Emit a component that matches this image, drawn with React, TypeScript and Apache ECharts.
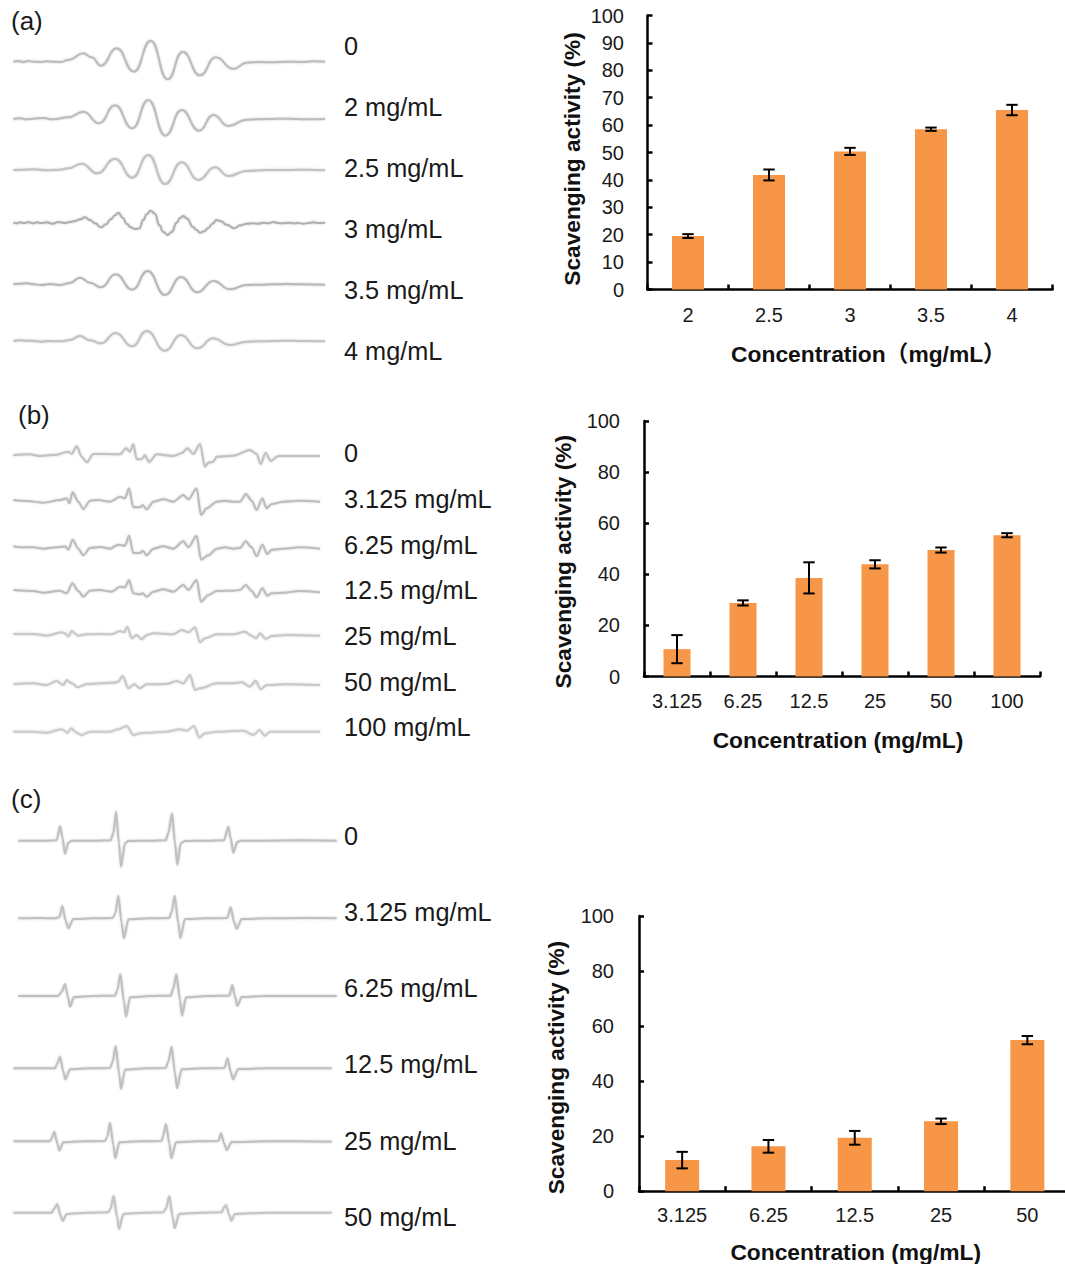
import React, { useEffect, useRef } from "react";
import * as echarts from "echarts";

// ---------- bar data ----------
const catsA = ["2", "2.5", "3", "3.5", "4"];
const valsA = [19.5, 41.8, 50.4, 58.5, 65.5];
const errsA = [0.7, 2, 1.3, 0.6, 1.9];

const catsB = ["3.125", "6.25", "12.5", "25", "50", "100"];
const valsB = [10.7, 28.8, 38.6, 43.9, 49.5, 55.3];
const errsB = [5.5, 1, 6.1, 1.6, 1, 0.8];

const catsC = ["3.125", "6.25", "12.5", "25", "50"];
const valsC = [11.3, 16.3, 19.4, 25.4, 54.9];
const errsC = [3, 2.3, 2.5, 1, 1.5];

// ---------- spectrum labels ----------
const labelsA = ["0", "2 mg/mL", "2.5 mg/mL", "3 mg/mL", "3.5 mg/mL", "4 mg/mL"];
const labelsB = ["0", "3.125 mg/mL", "6.25 mg/mL", "12.5 mg/mL", "25 mg/mL", "50 mg/mL", "100 mg/mL"];
const labelsC = ["0", "3.125 mg/mL", "6.25 mg/mL", "12.5 mg/mL", "25 mg/mL", "50 mg/mL"];

// ---------- spectrum readings: flat field, signal pairs ----------
const a0 = [40,0,55,2,70,-1,85,2,100,0,120,-1,140,1,160,0,180,-1,205,5,250,25,275,13,303,-12,350,40,402,-30,452,63,503,-53,548,30,600,-41,647,13,700,-22,740,-3,780,-1,820,-2,860,0,900,-1,940,1,975,0];
const a1 = [40,0,60,2,80,-1,100,1,130,3,160,-1,205,5,250,22,297,-13,345,41,397,-28,445,57,496,-50,545,27,597,-35,640,12,685,-21,740,-2,800,0,860,1,920,-1,975,0];
const a2 = [40,0,70,1,100,2,140,-1,180,1,205,5,245,19,292,-10,345,34,397,-23,445,45,495,-42,545,23,595,-30,645,8,685,-18,740,-3,800,0,860,0,920,1,975,-1];
const a3 = [40,1,50,-2,60,1,72,-1,85,2,98,-2,110,1,125,-1,140,1,158,-3,175,2,195,-1,210,2,225,5,240,10,255,16,270,8,285,-2,303,-14,318,-5,332,10,345,22,355,30,368,15,380,-3,392,-14,405,-19,418,-17,430,8,440,25,452,36,465,27,478,-8,490,-28,503,-37,515,-28,530,0,540,14,550,20,562,12,578,-12,590,-22,600,-30,612,-26,625,-16,637,-3,650,8,662,4,680,-6,703,-17,720,-8,740,-3,760,-2,775,-3,790,0,805,-2,820,2,835,-1,850,-2,865,0,880,-2,895,-1,910,-3,925,-1,940,1,955,-1,975,0];
const a4 = [40,0,60,2,80,3,100,0,125,-2,150,1,180,-2,210,4,240,20,270,5,303,-9,347,30,397,-16,443,40,495,-32,543,22,592,-24,640,10,690,-15,740,-2,780,-1,820,0,860,1,900,0,975,-1];
const a5 = [40,0,60,2,80,1,100,0,125,-2,150,0,180,-1,210,3,240,15,270,2,303,-7,347,24,397,-16,440,30,495,-29,543,18,592,-22,640,8,690,-12,740,-2,780,-1,820,0,860,1,900,0,975,-1];

const b0 = [40,0,90,2,120,-3,170,1,205,10,215,3,230,27,245,-5,260,-22,280,3,320,3,360,2,378,20,390,10,400,33,410,-13,425,-13,435,-1,447,-21,470,2,520,-3,545,5,562,20,580,3,600,33,615,-35,625,-23,640,-20,650,-5,700,-2,750,15,770,3,782,-27,797,7,812,-18,835,-3,880,-3,960,-3];
const b1 = [40,2,80,-1,130,-6,180,2,200,7,208,-8,218,25,235,-3,250,-25,270,0,295,2,330,-3,360,12,375,7,387,37,400,-20,420,-20,428,-13,440,-26,460,-3,490,4,520,-3,550,17,565,4,590,37,603,-43,620,-23,650,-3,675,0,700,-3,720,-3,738,20,755,0,770,-28,787,7,800,-23,815,-10,850,-3,900,0,960,-3];
const b2 = [40,5,60,2,100,2,130,-2,180,3,195,5,205,-5,218,25,235,-2,250,-22,270,0,300,3,330,-2,355,10,375,7,387,37,400,-15,420,-15,428,-8,440,-22,460,-2,490,5,520,-2,550,20,565,2,590,37,603,-35,625,-22,650,-2,675,2,700,-2,720,0,737,20,755,2,770,-25,787,10,802,-18,815,-5,850,-2,900,2,960,-2];
const b3 = [40,2,100,-1,130,-6,180,0,200,-8,217,22,235,-1,250,-18,270,0,300,2,335,-3,360,12,375,10,387,32,400,-8,420,-11,428,-8,440,-18,460,-3,490,4,520,-3,550,17,565,2,590,32,603,-33,625,-13,650,-1,700,0,720,2,737,17,755,-1,770,-20,787,7,802,-15,815,-8,850,-6,900,-1,960,-5];
const b4 = [40,0,100,0,140,-5,185,5,195,2,205,-8,215,9,235,-5,260,-1,300,0,335,-1,360,9,372,5,382,22,395,-13,410,-3,425,-16,440,-3,460,2,520,-1,545,12,565,5,585,20,600,-25,615,-13,650,-1,700,-1,735,7,755,-5,768,-13,780,2,797,-15,815,-6,860,-3,960,-5];
const b5 = [40,0,100,2,140,-3,170,9,190,-3,200,12,215,2,233,-10,260,0,300,2,340,4,355,7,368,24,385,-13,403,-1,420,-13,440,-1,500,0,530,9,550,2,570,27,585,-18,600,-13,650,2,700,2,725,5,750,-8,767,10,782,-16,800,-3,860,-1,960,-3];
const b6 = [40,0,100,0,140,-3,185,7,203,-3,213,10,230,-3,245,-10,270,0,330,0,355,7,380,17,400,-10,420,-5,440,-3,500,0,540,7,560,3,582,17,598,-18,615,-5,650,0,730,3,760,-10,778,5,795,-12,810,0,860,0,960,0];

const c0 = [55,0,100,0,140,0,170,1,180,44,187,12,195,-40,205,-6,215,0,280,0,332,1,340,22,348,87,357,-8,363,-78,375,-8,385,-1,450,0,497,1,505,22,516,82,525,-8,532,-73,542,-8,555,-1,620,0,672,1,685,42,692,7,700,-36,712,-3,725,0,800,0,900,1,1010,0];
const c1 = [55,0,120,1,165,0,178,3,187,37,197,-7,205,-30,220,-2,280,0,338,1,346,15,355,68,365,-15,372,-60,385,-3,450,0,508,1,515,20,524,68,535,-15,541,-60,555,-2,620,0,682,1,692,33,702,-10,710,-32,725,-2,800,0,900,1,1010,0];
const c2 = [55,0,120,0,175,0,185,13,195,36,205,-7,210,-32,222,-3,280,0,345,1,352,18,361,65,372,-17,378,-62,390,-4,450,0,512,1,520,23,529,65,540,-12,546,-59,558,-4,620,0,688,1,697,33,705,-2,712,-30,725,-3,800,0,900,0,1010,0];
const c3 = [40,0,100,0,165,0,172,15,180,35,190,-10,196,-33,210,-3,270,0,330,1,338,20,347,67,358,-20,363,-62,375,-4,440,0,497,1,505,20,515,65,525,-15,531,-60,545,-3,610,0,673,1,683,30,692,-10,699,-33,715,-2,800,0,900,0,995,0];
const c4 = [40,0,100,0,150,0,155,9,163,29,172,-6,178,-28,190,-3,250,0,315,1,322,14,330,56,340,-11,346,-51,358,-3,420,0,485,1,490,19,498,52,508,-6,514,-51,528,-3,590,0,655,1,663,24,672,-6,680,-26,695,-2,800,0,900,0,995,-1];
const c5 = [40,0,100,0,155,0,163,13,172,26,182,-10,188,-25,200,-4,260,0,325,1,332,13,341,51,351,-12,357,-49,370,-4,430,0,490,1,498,13,508,50,518,-12,524,-47,537,-4,600,0,665,1,672,16,678,23,688,-7,694,-24,705,-4,800,0,900,0,995,0];

const tracesA = [a0, a1, a2, a3, a4, a5];
const tracesB = [b0, b1, b2, b3, b4, b5, b6];
const tracesC = [c0, c1, c2, c3, c4, c5];

// ---------- layout ----------
const FONT = "'Liberation Sans', 'Noto Sans CJK SC', sans-serif";
const W = 1065;
const H = 1264;
const CANVAS_W = 1080;
const ORANGE = "#F79646";

const pairs = (flat: number[]) => {
  const out: number[][] = [];
  for (let i = 0; i < flat.length; i += 2) out.push([flat[i], flat[i + 1]]);
  return out;
};

const barPanels = [
  { cats: catsA, vals: valsA, errs: errsA, left: 647.5, right: 1052.5, top: 15.5, bottom: 289.5, interval: 10, barWidth: 32,
    xName: "Concentration（mg/mL）", xPad: [0, 0, 0, 37], xGap: 53, yPad: [0, 13, 0, 0], yGap: 64, labelMargin: 15, yLabelMargin: 23.5 },
  { cats: catsB, vals: valsB, errs: errsB, left: 644, right: 1040, top: 421, bottom: 676.5, interval: 20, barWidth: 27,
    xName: "Concentration (mg/mL)", xPad: [0, 8, 0, 0], xGap: 52, yPad: [0, 26, 0, 0], yGap: 70, labelMargin: 14, yLabelMargin: 24 },
  { cats: catsC, vals: valsC, errs: errsC, left: 639, right: 1070.5, top: 916, bottom: 1193.5, interval: 20, barWidth: 34,
    xName: "Concentration (mg/mL)", xPad: [0, 0, 0, 2], xGap: 49, yPad: [0, 28, 0, 0], yGap: 72, labelMargin: 14, yLabelMargin: 25 },
];

const tracePanels = [
  { traces: tracesA, centers: [61.7, 119, 170, 222.7, 284.3, 341], labels: labelsA, labelY: [46, 107, 168, 229, 290, 351], colors: ["#bcbcbc", "#bcbcbc", "#c2c2c2", "#b0b0b0", "#b8b8b8", "#c2c2c2"], smooth: 0.5 },
  { traces: tracesB, centers: [455, 500.7, 548, 590.7, 634, 684, 731.7], labels: labelsB, labelY: [453, 499, 545, 590, 636, 682, 727], colors: ["#c2c2c2", "#bcbcbc", "#bcbcbc", "#bcbcbc", "#c8c8c8", "#c8c8c8", "#cccccc"], smooth: 0.3 },
  { traces: tracesC, centers: [840.7, 918.3, 996, 1068.3, 1141.3, 1212.7], labels: labelsC, labelY: [836, 912, 988, 1064, 1141, 1217], colors: ["#c0c0c0", "#c0c0c0", "#c0c0c0", "#c0c0c0", "#c0c0c0", "#c4c4c4"], smooth: 0.25 },
];

const LABEL_X = 344;

const panelLetters = [
  { text: "(a)", x: 11, y: 21 },
  { text: "(b)", x: 18, y: 415 },
  { text: "(c)", x: 11, y: 799 },
];

function buildOption() {
  const grid: any[] = [];
  const xAxis: any[] = [];
  const yAxis: any[] = [];
  const series: any[] = [];
  const graphic: any[] = [];

  barPanels.forEach((p) => {
    const idx = grid.length;
    grid.push({ left: p.left, top: p.top, width: p.right - p.left, height: p.bottom - p.top });
    const axisLine = { show: true, onZero: false, lineStyle: { color: "#000", width: 2.5 } };
    const nameStyle = { fontFamily: FONT, fontWeight: "bold", color: "#111" };
    xAxis.push({
      gridIndex: idx,
      type: "category",
      data: p.cats,
      axisLine,
      axisTick: { show: true, inside: true, length: 5, alignWithLabel: false, lineStyle: { color: "#000", width: 2.5 } },
      axisLabel: { fontFamily: FONT, fontSize: 20, color: "#1a1a1a", margin: p.labelMargin, interval: 0 },
      name: p.xName,
      nameLocation: "middle",
      nameGap: p.xGap,
      nameTextStyle: { ...nameStyle, fontSize: 22.8, padding: p.xPad },
    });
    yAxis.push({
      gridIndex: idx,
      type: "value",
      min: 0,
      max: 100,
      interval: p.interval,
      axisLine,
      axisTick: { show: true, inside: true, length: 5, lineStyle: { color: "#000", width: 2.5 } },
      axisLabel: { fontFamily: FONT, fontSize: 20, color: "#1a1a1a", margin: p.yLabelMargin },
      splitLine: { show: false },
      name: "Scavenging activity (%)",
      nameLocation: "middle",
      nameGap: p.yGap,
      nameRotate: 90,
      nameTextStyle: { ...nameStyle, fontSize: 22.7, padding: p.yPad },
    });
    series.push({
      type: "bar",
      xAxisIndex: idx,
      yAxisIndex: idx,
      data: p.vals,
      barWidth: p.barWidth,
      itemStyle: { color: ORANGE },
      silent: true,
      z: 2,
    });
    series.push({
      type: "custom",
      xAxisIndex: idx,
      yAxisIndex: idx,
      data: p.vals.map((v, i) => [i, v - p.errs[i], v + p.errs[i]]),
      encode: { x: 0, y: [1, 2] },
      clip: false,
      silent: true,
      z: 3,
      renderItem: (_: any, api: any) => {
        const lo = api.coord([api.value(0), api.value(1)]);
        const hi = api.coord([api.value(0), api.value(2)]);
        const style = { stroke: "#000", lineWidth: 2, fill: "none" };
        const cap = 5.7;
        return {
          type: "group",
          children: [
            { type: "line", shape: { x1: lo[0], y1: lo[1], x2: hi[0], y2: hi[1] }, style },
            { type: "line", shape: { x1: lo[0] - cap, y1: lo[1], x2: lo[0] + cap, y2: lo[1] }, style },
            { type: "line", shape: { x1: hi[0] - cap, y1: hi[1], x2: hi[0] + cap, y2: hi[1] }, style },
          ],
        };
      },
    });
  });

  tracePanels.forEach((p) => {
    p.traces.forEach((t, i) => {
      const idx = grid.length;
      grid.push({ left: 0, top: p.centers[i] - 30, width: 340, height: 60 });
      xAxis.push({ gridIndex: idx, type: "value", min: 0, max: 1020, show: false });
      yAxis.push({ gridIndex: idx, type: "value", min: -90, max: 90, show: false, splitLine: { show: false } });
      series.push({
        type: "line",
        xAxisIndex: idx,
        yAxisIndex: idx,
        data: pairs(t),
        showSymbol: false,
        symbol: "none",
        smooth: p.smooth,
        smoothMonotone: "x",
        silent: true,
        clip: false,
        lineStyle: { color: p.colors[i], width: 2, shadowBlur: 2, shadowColor: "rgba(170,170,170,0.6)" },
      });
      graphic.push({
        type: "text",
        x: LABEL_X,
        y: p.labelY[i],
        silent: true,
        style: { text: p.labels[i], fontFamily: FONT, fontSize: 25.3, fill: "#1a1a1a", verticalAlign: "middle" },
      });
    });
  });

  panelLetters.forEach((l) => {
    graphic.push({
      type: "text",
      x: l.x,
      y: l.y,
      silent: true,
      style: { text: l.text, fontFamily: FONT, fontSize: 26, fill: "#1a1a1a", verticalAlign: "middle" },
    });
  });

  return { animation: false, backgroundColor: "#fff", grid, xAxis, yAxis, series, graphic };
}

export default function App() {
  const ref = useRef<HTMLDivElement>(null);
  useEffect(() => {
    document.body.style.margin = "0";
    const chart = echarts.init(ref.current!, undefined, { renderer: "svg", width: CANVAS_W, height: H });
    chart.setOption(buildOption() as any);
    return () => chart.dispose();
  }, []);
  return (
    <div style={{ width: W, height: H, overflow: "hidden" }}>
      <div ref={ref} style={{ width: CANVAS_W, height: H }} />
    </div>
  );
}
